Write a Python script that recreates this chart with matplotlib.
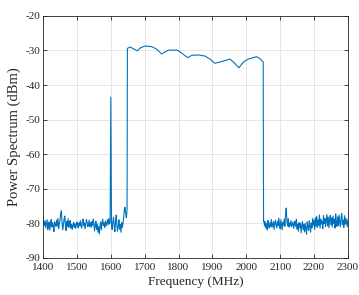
import numpy as np
import matplotlib
matplotlib.use("Agg")
import matplotlib.pyplot as plt

# Left noise floor: 1400..1646 MHz, step 2
left_start, left_step = 1400, 2
left_db = [
    -78.5, -79.8, -80.6, -79.2, -81.3, -80.1, -79.0, -81.8, -80.4, -79.6,
    -82.0, -80.2, -78.9, -81.1, -79.8, -80.9, -82.4, -79.5, -80.3, -81.0,
    -79.1, -80.8, -78.6, -81.5, -80.0, -79.3, -77.2, -76.4, -79.8, -81.9,
    -80.5, -78.8, -77.9, -80.6, -82.1, -79.4, -80.9, -78.7, -81.2, -80.0,
    -79.2, -81.4, -80.3, -81.8, -80.6, -79.7, -81.2, -80.1, -81.5, -80.4,
    -79.6, -80.9, -81.3, -79.9, -80.6, -79.2, -80.8, -81.4, -79.5, -78.8,
    -80.7, -79.9, -81.6, -80.2, -78.9, -79.7, -81.0, -80.4, -79.1, -80.9,
    -79.8, -81.2, -79.5, -80.6, -78.7, -80.3, -82.2, -80.5, -79.4, -81.8,
    -80.2, -82.6, -81.0, -83.1, -80.7, -79.6, -81.9, -80.0, -78.8, -80.6,
    -79.9, -81.3, -79.4, -80.8, -79.9, -79.0, -80.5, -78.6, -80.2, -79.7,
    -43.5, -80.6, -81.8, -79.6, -78.2, -80.9, -82.4, -79.3, -77.6, -80.8,
    -82.3, -80.5, -79.0, -81.7, -80.4, -82.6, -79.8, -81.2, -80.1, -78.3,
    -76.0, -75.4, -77.2, -78.4, -76.0,
]

# Passband (frequency, dBm)
band_freq = [1649, 1657, 1665, 1678, 1688, 1701, 1721, 1735, 1750, 1770,
             1796, 1806, 1827, 1839, 1858, 1878, 1893, 1907, 1927, 1952,
             1966, 1978, 1993, 2006, 2030, 2040, 2050]
band_db = [-29.4, -29.0, -29.4, -30.1, -29.2, -28.7, -28.9, -29.6, -31.0, -29.9,
           -29.9, -30.5, -32.1, -31.4, -31.3, -31.6, -32.5, -33.7, -33.2, -32.5,
           -33.7, -35.0, -33.2, -32.5, -31.8, -32.3, -33.4]

# Right noise floor: 2051, then 2052..2300 step 2
right_first = (2051, -79.5)
right_start, right_step = 2052, 2
right_db = [
    -79.3, -80.8, -79.6, -81.5, -80.1, -82.0, -79.2, -80.7, -81.4, -79.8,
    -80.9, -78.9, -81.2, -80.3, -79.5, -81.8, -80.0, -79.1, -80.6, -81.3,
    -79.4, -80.7, -78.5, -80.2, -81.6, -79.0, -80.4, -81.9, -79.7, -80.5,
    -78.8, -80.9, -77.4, -75.6, -79.3, -80.8, -78.6, -81.1, -79.9, -80.6,
    -79.2, -81.0, -80.3, -79.6, -81.5, -80.2, -79.4, -80.9, -78.8, -81.7,
    -80.4, -82.3, -79.8, -81.2, -80.0, -82.8, -80.6, -79.5, -81.9, -80.3,
    -82.5, -80.0, -81.6, -83.2, -79.6, -81.0, -82.1, -79.3, -80.7, -82.6,
    -79.9, -81.3, -78.6, -80.5, -79.2, -81.8, -78.4, -80.9, -77.9, -81.2,
    -79.0, -80.6, -77.6, -81.4, -78.8, -80.2, -79.4, -81.6, -77.8, -80.1,
    -78.6, -81.0, -79.3, -77.5, -80.8, -78.2, -81.3, -79.0, -77.7, -80.5,
    -78.4, -81.1, -77.9, -80.0, -78.8, -81.4, -77.3, -79.6, -80.9, -78.1,
    -80.7, -77.6, -79.8, -81.0, -78.3, -77.2, -80.4, -79.1, -81.2, -77.8,
    -80.3, -78.5, -79.7, -81.0, -78.9,
]

x_ticks = [1400, 1500, 1600, 1700, 1800, 1900, 2000, 2100, 2200, 2300]
y_ticks = [-90, -80, -70, -60, -50, -40, -30, -20]

left_freq = [left_start + left_step * i for i in range(len(left_db))]
right_freq = [right_first[0]] + [right_start + right_step * i for i in range(len(right_db))]
freq = left_freq + band_freq + right_freq
db = left_db + band_db + [right_first[1]] + right_db

plt.rcParams['font.family'] = ['Liberation Serif', 'DejaVu Serif']
plt.rcParams['axes.unicode_minus'] = False
fig = plt.figure(figsize=(3.59, 2.95), dpi=100)
ax = fig.add_axes([0.12, 0.126, 0.849, 0.82])
ax.plot(freq, db, color='#0072BD', lw=0.8)
ax.set_xlim(1400, 2300)
ax.set_ylim(-90, -20)
ax.set_xticks(x_ticks)
ax.set_yticks(y_ticks)
ax.grid(True, color='#e3e3e3', lw=0.6)
ax.set_axisbelow(True)
ax.tick_params(direction='in', top=True, right=True, labelsize=8, length=3,
               width=0.6, colors='#262626')
ax.tick_params(axis='x', pad=3.5)
ax.tick_params(axis='y', pad=2)
for s in ax.spines.values():
    s.set_color('#262626')
    s.set_linewidth(0.6)
ax.set_xlabel('Frequency (MHz)', fontsize=9.5, color='#262626', labelpad=3)
ax.set_ylabel('Power Spectrum (dBm)', fontsize=10.5, color='#262626', labelpad=3)
fig.savefig('out.png', dpi=100)
